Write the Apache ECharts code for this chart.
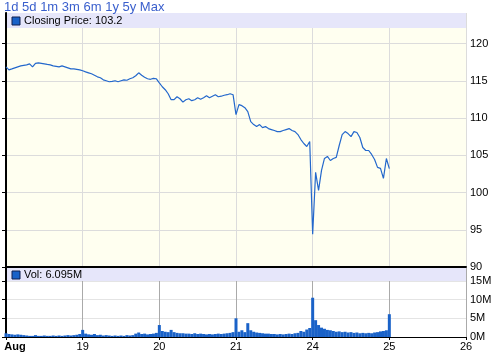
<!DOCTYPE html>
<html><head><meta charset="utf-8">
<script src="https://cdn.jsdelivr.net/npm/echarts@6/dist/echarts.min.js"></script>
<style>html,body{margin:0;padding:0;background:#fff}#c{width:495px;height:357px}</style>
</head><body><div id="c"></div>
<script>
// ---- data ----
const dayLabels = ['Aug', '19', '20', '21', '24', '25', '26'];
const rangeLinks = '1d 5d 1m 3m 6m 1y 5y Max';
const lastClose = 103.2;
const lastVolume = 6.095; // millions

// closing prices, 15-minute samples per trading day
const priceAug18 = [116.87,116.47,116.6,116.74,116.87,117.0,117.07,117.14,117.27,116.87,117.34,117.41,117.34,117.27,117.2,117.14,117.0,116.94,116.87,117.0,116.87,116.74,116.6,116.6,116.54,116.47];
const priceAug19 = [116.34,116.2,116.07,115.94,115.74,115.53,115.4,115.13,115.0,114.87,114.93,115.0,114.87,115.0,115.13,115.07,115.27,115.4,115.67,116.07,115.74,115.47,115.27,115.2,115.33,115.27];
const priceAug20 = [114.73,114.2,113.8,113.26,112.46,112.46,112.86,112.59,112.13,112.46,112.59,112.33,112.46,112.73,112.52,112.73,112.99,112.73,112.93,113.13,112.86,112.93,113.06,113.13,113.26,113.13];
const priceAug21 = [110.45,111.79,111.66,111.39,110.86,109.52,109.12,108.85,109.12,108.72,108.85,108.58,108.45,108.32,108.18,108.18,108.32,108.45,108.58,108.32,108.18,107.78,107.11,106.58,106.18,106.84];
const priceAug24 = [94.41,102.7,100.29,102.97,104.57,104.84,104.3,104.57,104.71,106.31,107.78,108.18,107.91,107.51,108.18,108.05,107.38,106.04,105.64,105.64,105.11,104.44,103.37,103.24,101.9,104.57,103.2];

// volume in millions, same sampling
const volAug18 = [1.0,0.8,0.7,0.6,0.7,0.6,0.5,0.4,0.3,0.3,0.5,0.3,0.3,0.4,0.3,0.3,0.4,0.3,0.4,0.3,0.4,0.5,0.4,0.5,0.6,0.8];
const volAug19 = [1.9,0.9,0.7,0.6,0.8,0.5,0.6,0.4,0.5,0.4,0.3,0.4,0.3,0.4,0.3,0.5,0.4,0.5,0.9,1.2,0.8,0.9,0.7,0.8,0.9,1.1];
const volAug20 = [3.2,1.6,1.4,1.3,1.9,1.3,1.1,1.0,1.0,0.9,0.9,0.8,1.0,0.8,0.9,0.8,0.7,0.8,0.7,0.8,0.9,0.8,0.9,1.0,1.1,1.3];
const volAug21 = [5.0,1.4,1.8,1.3,3.7,1.8,1.4,1.2,1.1,1.0,0.9,0.9,0.8,0.8,0.7,0.8,0.7,0.8,0.9,0.8,1.0,1.1,1.6,1.4,2.0,2.4];
const volAug24 = [10.5,4.5,3.2,2.5,2.2,1.9,1.8,1.6,1.4,1.5,1.3,1.4,1.2,1.3,1.1,1.2,1.0,1.1,1.0,1.1,1.0,1.2,1.3,1.5,1.6,1.8];
const volAug25 = [lastVolume];

const SAMPLES_PER_DAY = 26;
function build(days) {
  const out = [];
  days.forEach((arr, d) => arr.forEach((v, i) => out.push([d + i / SAMPLES_PER_DAY, v])));
  return out;
}
const priceData = build([priceAug18, priceAug19, priceAug20, priceAug21, priceAug24]);
const volData = build([volAug18, volAug19, volAug20, volAug21, volAug24, volAug25]);

// ---- chart ----
const FONT = 'Liberation Sans, Arial, sans-serif';
const chart = echarts.init(document.getElementById('c'), null, {renderer: 'canvas'});
const priceTop = 13, priceH = 254, volTop = 268, volH = 69, gLeft = 6, gRight = 29;
chart.setOption({
  animation: false,
  textStyle: {fontFamily: FONT},
  grid: [
    {left: gLeft, right: gRight, top: priceTop, height: priceH, show: true, backgroundColor: '#fffff0', borderWidth: 0},
    {left: gLeft, right: gRight, top: volTop, height: volH, show: true, backgroundColor: '#ffffff', borderWidth: 0}
  ],
  xAxis: [
    {gridIndex: 0, type: 'value', min: 0, max: 6, interval: 1,
     axisLine: {show: true, onZero: false, lineStyle: {color: '#000', width: 2}},
     axisTick: {show: false}, axisLabel: {show: false},
     splitLine: {show: true, lineStyle: {color: '#dcdcdc', width: 1}}},
    {gridIndex: 1, type: 'value', min: 0, max: 6, interval: 1,
     axisLine: {show: true, onZero: false, lineStyle: {color: '#000', width: 1}},
     axisTick: {show: true, length: 3, lineStyle: {color: '#000'}},
     axisLabel: {show: true, color: '#000', fontSize: 11, fontFamily: FONT, margin: 4,
       formatter: v => v === 0 ? '{b|' + dayLabels[0] + '}' : (dayLabels[Math.round(v)] || ''),
       rich: {b: {fontWeight: 'bold', fontSize: 11, fontFamily: FONT, color: '#000', padding: [0, 0, 0, 18]}}},
     splitLine: {show: true, lineStyle: {color: '#aaaaaa', width: 1}}}
  ],
  yAxis: [
    {gridIndex: 0, type: 'value', position: 'right', min: 90, max: 124.1, interval: 5,
     axisLine: {show: true, lineStyle: {color: '#000'}},
     axisTick: {show: true, inside: true, length: 4, lineStyle: {color: '#000'}},
     axisLabel: {color: '#000', fontSize: 11, fontFamily: FONT, margin: 4, showMaxLabel: false,
       formatter: v => (Math.abs(v % 5) < 1e-6 ? String(v) : '')},
     splitLine: {show: true, lineStyle: {color: '#dcdcdc'}}},
    {gridIndex: 1, type: 'value', position: 'right', min: 0, max: 18.45, interval: 5,
     axisLine: {show: true, lineStyle: {color: '#000'}},
     axisTick: {show: true, inside: true, length: 4, lineStyle: {color: '#000'}},
     axisLabel: {color: '#000', fontSize: 11, fontFamily: FONT, margin: 4, showMaxLabel: false,
       formatter: v => (Math.abs(v % 5) < 1e-6 ? v + 'M' : '')},
     splitLine: {show: true, lineStyle: {color: '#e4e4e4'}}},
    {gridIndex: 0, type: 'value', position: 'left', min: 90, max: 124.1,
     axisLine: {show: true, lineStyle: {color: '#000', width: 2}}, axisTick: {show: false},
     axisLabel: {show: false}, splitLine: {show: false}},
    {gridIndex: 1, type: 'value', position: 'left', min: 0, max: 18.45,
     axisLine: {show: true, lineStyle: {color: '#000', width: 2}}, axisTick: {show: false},
     axisLabel: {show: false}, splitLine: {show: false}}
  ],
  series: [
    {type: 'line', xAxisIndex: 0, yAxisIndex: 0, data: priceData, showSymbol: false,
     lineStyle: {color: '#2468cc', width: 1.2}, z: 5},
    {type: 'bar', xAxisIndex: 1, yAxisIndex: 1, data: volData, barWidth: 3,
     itemStyle: {color: '#1a62c8'}, z: 5}
  ],
  graphic: [
    {type: 'text', left: 4, top: 1, z: 20,
     style: {text: rangeLinks, fill: '#3a5fcd', font: '13px ' + FONT}},
    {type: 'rect', shape: {x: 7, y: priceTop, width: 459, height: 15}, z: 10,
     style: {fill: '#e6e6fa'}},
    {type: 'rect', shape: {x: 12, y: priceTop + 4, width: 8, height: 8}, z: 11,
     style: {fill: '#1a62c8', stroke: '#102050', lineWidth: 1}},
    {type: 'text', x: 24, y: priceTop + 8, z: 11,
     style: {text: 'Closing Price: ' + lastClose, fill: '#000', font: '11px ' + FONT, verticalAlign: 'middle'}},
    {type: 'rect', shape: {x: 7, y: volTop, width: 459, height: 13}, z: 10,
     style: {fill: '#e6e6fa'}},
    {type: 'rect', shape: {x: 12, y: volTop + 3, width: 8, height: 8}, z: 11,
     style: {fill: '#1a62c8', stroke: '#102050', lineWidth: 1}},
    {type: 'text', x: 24, y: volTop + 7, z: 11,
     style: {text: 'Vol: ' + lastVolume + 'M', fill: '#000', font: '11px ' + FONT, verticalAlign: 'middle'}}
  ]
});
</script>
</body></html>
